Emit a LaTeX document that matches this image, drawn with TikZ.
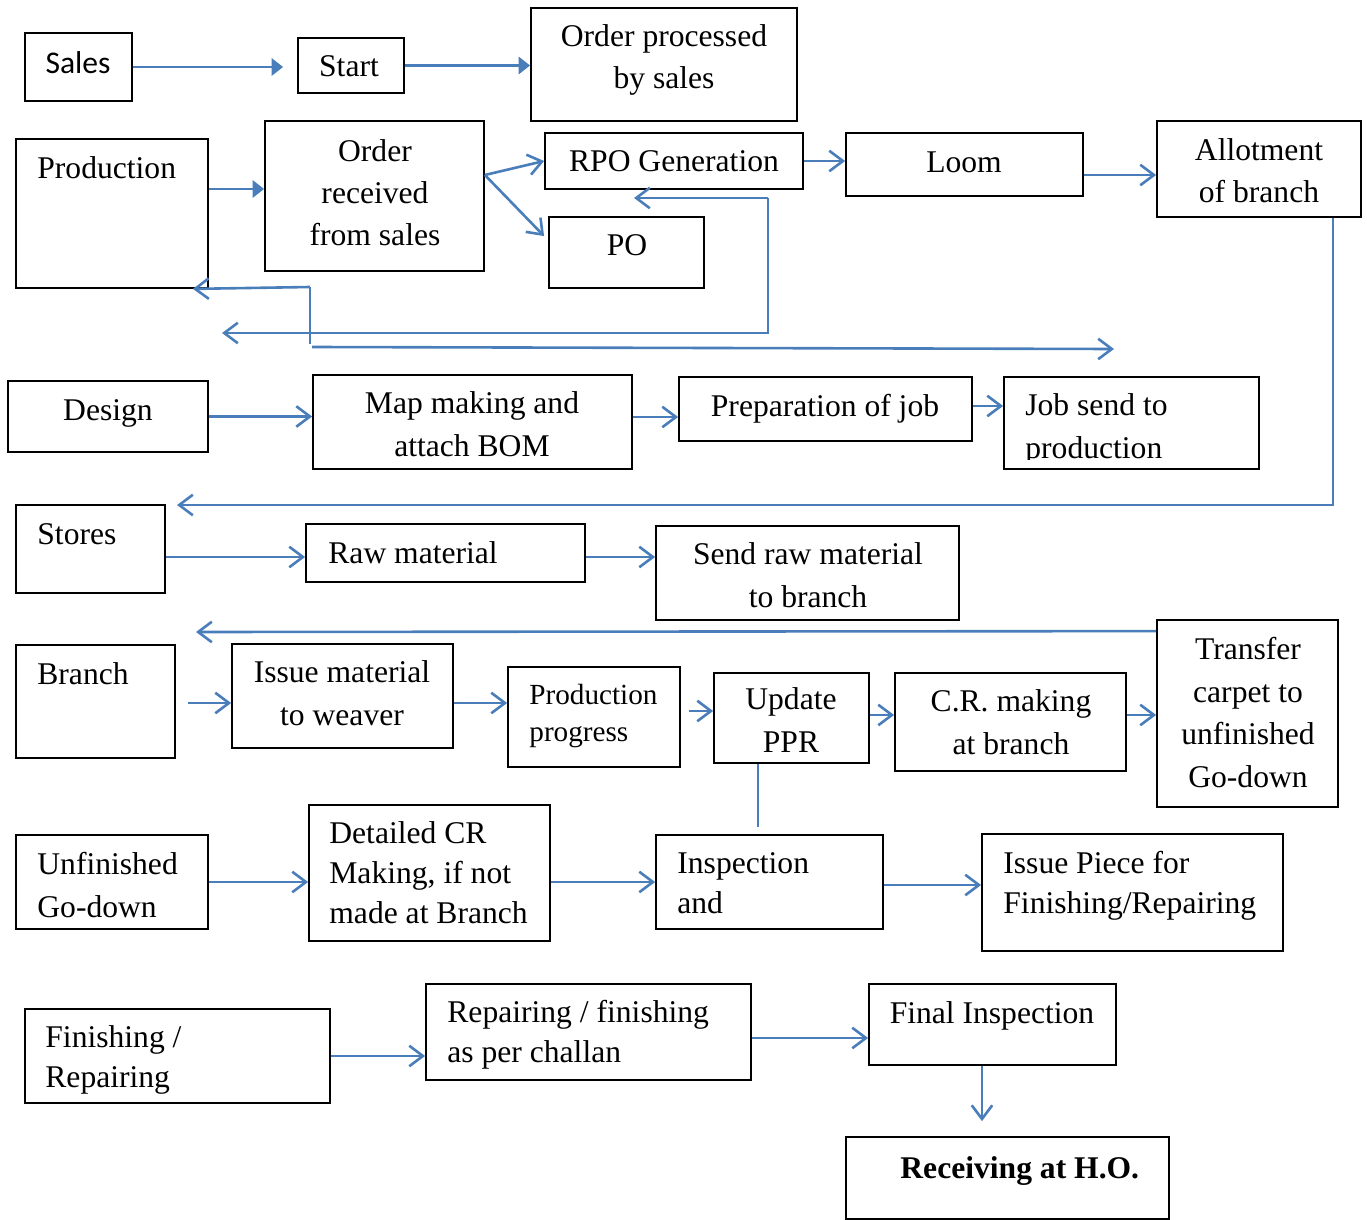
\documentclass[tikz,border=0pt]{standalone}
\usepackage{fontspec}
\setmainfont{Liberation Serif}
\newfontfamily\calibri{Carlito}
\usepackage{tikz}
\usetikzlibrary{arrows.meta,calc,fit}
\definecolor{azul}{HTML}{4A7EBB}
\tikzset{
  caja/.style={rectangle, draw=black, line width=0.9pt, inner sep=0pt},
  txt/.style={inner sep=0pt, font=\fontsize{15.8}{21.25}\selectfont},
  txtc/.style={txt, align=center, anchor=base},
  txtl/.style={txt, align=left, anchor=base west},
  apretado/.style={font=\fontsize{15.8}{19.8}\selectfont},
  flecha/.style={-{Straight Barb[length=2.4mm, width=3.6mm]}, line width=1.3pt, draw=azul},
  flechar/.style={-{Triangle[length=2mm, width=3mm]}, line width=1.3pt, draw=azul},
  tramo/.style={line width=1pt, draw=azul}
}
\begin{document}
\begin{tikzpicture}[x=0.5pt, y=-0.5pt]
  \useasboundingbox (0,0) rectangle (1367,1220);

  % Sales
  \node[caja, fit={(25,33) (132,101)}] (sales) {};
  \node[txtc, font=\calibri\fontsize{15.8}{19}\selectfont] (tSales) at (78,74) {Sales};
  \node[caja, fit={(298,38) (404,93)}] (start) {};
  \node[txtc] (tStart) at (349,77) {Start};
  \node[caja, fit={(531,8) (797,121)}] (ordproc) {};
  \node[txtc] (tOrdproc) at (664,89) {Order processed\\by sales};

  % Production
  \node[caja, fit={(16,139) (208,288)}] (prod) {};
  \node[txtl] (tProd) at (37,179) {Production};
  \node[caja, fit={(265,121) (484,271)}] (orec) {};
  \node[txtc] (tOrec) at (375,246) {Order\\received\\from sales};
  \node[caja, fit={(545,133) (803,189)}] (rpo) {};
  \node[txtc] (tRpo) at (674,172) {RPO Generation};
  \node[caja, fit={(549,217) (704,288)}] (po) {};
  \node[txtc] (tPo) at (627,256) {PO};
  \node[caja, fit={(846,133) (1083,196)}] (loom) {};
  \node[txtc] (tLoom) at (964,173) {Loom};
  \node[caja, fit={(1157,121) (1361,217)}] (allot) {};
  \node[txtc] (tAllot) at (1259,203) {Allotment\\of branch};

  % Design
  \node[caja, fit={(8,381) (208,452)}] (design) {};
  \node[txtc] (tDesign) at (108,420) {Design};
  \node[caja, fit={(313,375) (632,469)}] (map) {};
  \node[txtc] (tMap) at (472,456) {Map making and\\attach BOM};
  \node[caja, fit={(679,377) (972,441)}] (prep) {};
  \node[txtc] (tPrep) at (825,416) {Preparation of job};
  \node[caja, fit={(1004,377) (1259,469)}] (job) {};
  \begin{scope}
    \clip (1004,377) rectangle (1259,459);
    \node[txtl] (tJob) at (1025,458) {Job send to\\production};
  \end{scope}

  % Stores
  \node[caja, fit={(16,505) (165,593)}] (stores) {};
  \node[txtl] (tStores) at (37,544) {Stores};
  \node[caja, fit={(306,524) (585,582)}] (raw) {};
  \node[txtl] (tRaw) at (328,563) {Raw material};
  \node[caja, fit={(656,526) (959,620)}] (send) {};
  \node[txtc] (tSend) at (808,607) {Send raw material\\to branch};

  % Branch
  \node[caja, fit={(16,645) (175,758)}] (branch) {};
  \node[txtl] (tBranch) at (37,684) {Branch};
  \node[caja, fit={(232,644) (453,748)}] (issue) {};
  \node[txtc] (tIssue) at (342,725) {Issue material\\to weaver};
  \node[caja, fit={(508,667) (680,767)}] (prog) {};
  \node[txtl, font=\fontsize{14.6}{18.5}\selectfont] (tProg) at (529,741) {Production\\progress};
  \node[caja, fit={(714,673) (869,763)}] (update) {};
  \node[txtc] (tUpdate) at (791,752) {Update\\PPR};
  \node[caja, fit={(895,673) (1126,771)}] (cr) {};
  \node[txtc] (tCr) at (1011,754) {C.R. making\\at branch};
  \node[caja, fit={(1157,620) (1338,807)}] (trans) {};
  \node[txtc] (tTrans) at (1248,787) {Transfer\\carpet to\\unfinished\\Go-down};

  % Unfinished Go-down
  \node[caja, fit={(16,835) (208,929)}] (unfin) {};
  \node[txtl] (tUnfin) at (37,917) {Unfinished\\Go-down};
  \node[caja, fit={(309,805) (550,941)}] (detail) {};
  \node[txtl, apretado] (tDetail) at (329,923) {Detailed CR\\Making, if not\\made at Branch};
  \node[caja, fit={(656,835) (883,929)}] (insp) {};
  \node[txtl, apretado] (tInsp) at (677,913) {Inspection\\and};
  \node[caja, fit={(982,834) (1283,951)}] (issp) {};
  \node[txtl, apretado] (tIssp) at (1003,913) {Issue Piece for\\Finishing/Repairing};

  % Finishing / Repairing
  \node[caja, fit={(25,1009) (330,1103)}] (fin) {};
  \node[txtl, apretado] (tFin) at (45,1087) {Finishing /\\Repairing};
  \node[caja, fit={(426,984) (751,1080)}] (rep) {};
  \node[txtl, apretado] (tRep) at (447,1062) {Repairing / finishing\\as per challan};
  \node[caja, fit={(869,984) (1116,1065)}] (final) {};
  \node[txtc] (tFinal) at (992,1023) {Final Inspection};
  \node[caja, fit={(846,1137) (1169,1219)}] (recv) {};
  \node[txtl, font=\bfseries\fontsize{15.8}{19}\selectfont] (tRecv) at (900,1178) {Receiving at H.O.};

  % connectors
  \draw[flechar] (sales.east) -- ($(sales.east -| start.west)+(-14,0)$);
  \draw[flechar] (start.east) -- (start.east -| ordproc.west);
  \coordinate (entOrd) at ($(orec.west)+(0,-7)$);
  \draw[flechar] (entOrd -| prod.east) -- (entOrd);
  \coordinate (rama) at ($(orec.east)+(0,-21)$);
  \draw[flecha] (rama) -- (rpo.west);
  \draw[flecha] (rama) -- ($(po.north west)+(-4,20)$);
  \draw[flecha] (rpo.east) -- (rpo.east -| loom.west);
  \coordinate (entAll) at ($(allot.west)+(0,6)$);
  \draw[flecha] (entAll -| loom.east) -- (entAll);

  \coordinate (codo) at (768,198);
  \coordinate (retRpo) at (634,198);
  \coordinate (retIzq) at (222,333);
  \draw[flecha] (codo) -- (retRpo);
  \draw[flecha] (codo) |- (retIzq);
  \coordinate (ramA) at (310,287);
  \coordinate (ramB) at (310,344);
  \coordinate (ramD) at (312,347);
  \coordinate (ramC) at (1114,349);
  \draw[tramo] (ramA) -- (ramB);
  \draw[flecha] (ramA) -- ([xshift=-8pt]prod.south east);
  \draw[flecha] (ramD) -- (ramC);

  \coordinate (bajaA) at ($(allot.south)+(74,0)$);
  \coordinate (llegaS) at (177,505);
  \draw[flecha] (bajaA) |- (llegaS);

  \draw[flecha] (design.east) -- (design.east -| map.west);
  \draw[flecha] ($(map.east)+(0,-5)$) -- ($(map.east -| prep.west)+(0,-5)$);
  \draw[flecha] ($(prep.east)+(0,-3)$) -- ($(prep.east -| job.west)+(0,-3)$);

  \coordinate (entRaw) at ($(raw.west)+(0,4)$);
  \draw[flecha] (entRaw -| stores.east) -- (entRaw);
  \draw[flecha] (entRaw -| raw.east) -- (entRaw -| send.west);

  \coordinate (llegaB) at (196,632);
  \draw[flecha] ($(trans.north west)+(0,12)$) -- (llegaB);
  \coordinate (entIss) at ($(issue.west)+(0,7)$);
  \draw[flecha] ($(entIss)+(-43,0)$) -- (entIss);
  \draw[flecha] (entIss -| issue.east) -- (entIss -| prog.west);
  \coordinate (entUpd) at ($(update.west)+(0,-7)$);
  \draw[flecha] ($(entUpd -| prog.east)+(8,0)$) -- (entUpd);
  \coordinate (entCr) at ($(cr.west)+(0,-7)$);
  \draw[flecha] (entCr -| update.east) -- (entCr);
  \draw[flecha] (entCr -| cr.east) -- (entCr -| trans.west);
  \draw[tramo] ($(update.south)+(-33.5,0)$) -- ($(update.south |- insp.north)+(-33.5,-7)$);

  \draw[flecha] (unfin.east) -- (unfin.east -| detail.west);
  \draw[flecha] (insp.west -| detail.east) -- (insp.west);
  \draw[flecha] ($(insp.east)+(0,3)$) -- ($(insp.east -| issp.west)+(0,3)$);

  \draw[flecha] (fin.east) -- (fin.east -| rep.west);
  \coordinate (entFin) at ($(final.west)+(0,13.5)$);
  \draw[flecha] (entFin -| rep.east) -- (entFin);
  \draw[flecha] ($(final.south)+(-10.5,0)$) -- ($(final.south |- recv.north)+(-10.5,-15)$);
\end{tikzpicture}
\end{document}
